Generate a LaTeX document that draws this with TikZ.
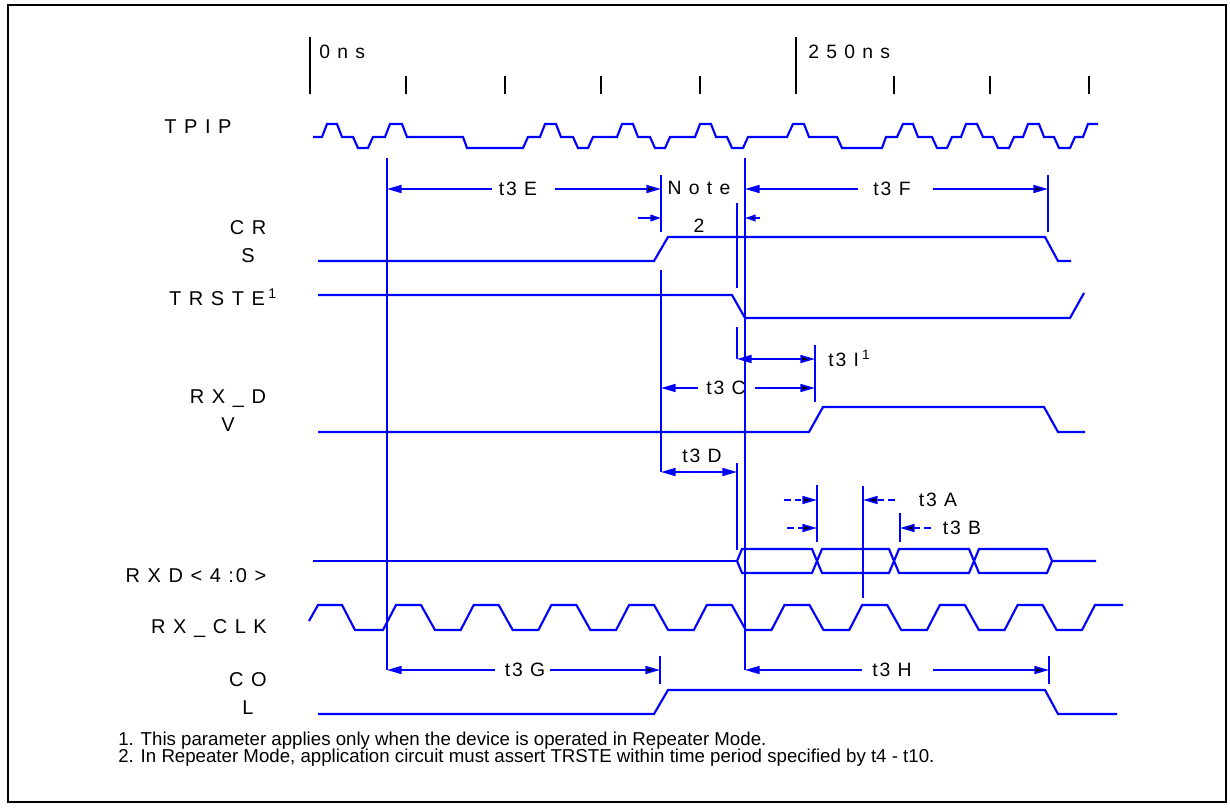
\documentclass[tikz,border=0pt]{standalone}
\usepackage{fontspec}
\setmainfont{Liberation Sans}
\usetikzlibrary{arrows.meta}

\begin{document}
\begin{tikzpicture}[x=0.75pt,y=-0.75pt,
  wave/.style={blue,line width=1.6pt},
  vline/.style={blue,line width=2pt},
  tickline/.style={black,line width=2pt},
  dim/.style={blue,line width=1.3pt},
  shortdash/.style={dash pattern=on 5pt off 3pt},
  lbl/.style={font=\fontsize{15}{21}\selectfont\addfontfeature{LetterSpace=10},inner sep=0pt,align=center},
  tlbl/.style={font=\fontsize{14.5}{16}\selectfont\addfontfeature{LetterSpace=10},inner sep=0pt},
  note/.style={font=\fontsize{14}{15}\selectfont,inner sep=0pt,anchor=west},
  tipb/.tip={Triangle[length=11pt,width=6pt]},
  tipk/.tip={Triangle[length=11pt,width=6pt,fill=black]},
  tips/.tip={Triangle[length=8pt,width=5pt,fill=black]}]
\useasboundingbox (0,0) rectangle (1230,807);
\draw[line width=0.8pt] (8,5) rectangle (1226,802);

% time scale
\draw[tickline] (310,37) -- (310,94);
\draw[tickline] (796,37) -- (796,94);
\foreach \x in {406,505,601,700,894,990,1089}
  \draw[tickline] (\x,76) -- (\x,94);
\node[tlbl,anchor=west] (zero) at (319,52) {0 n s};
\node[tlbl,anchor=west] (half) at (808,52) {2 5 0 n s};

% signal names
\node[lbl] (tpip) at (198,127) {T P I P};
\node[lbl] (crs) at (248,242) {C R\\S};
\node[lbl] (trste) at (223,297) {T R S T E\,\textsuperscript{1}};
\node[lbl] (rxdv) at (228,411) {R X \_ D\\V};
\node[lbl] (rxd) at (196,576) {R X D < 4 :0 >};
\node[lbl] (rxclk) at (209,628) {R X \_ C L K};
\node[lbl] (col) at (248,694) {C O\\L};

% TPIP
\draw[wave] (313,137) -- (322,137) -- (327,124) -- (337,124) -- (342,137) -- (353,137)
  -- (358,148) -- (368,148) -- (373,137) -- (385,137) -- (390,124) -- (402,124)
  -- (407,137) -- (463,137) -- (467,148) -- (523,148) -- (528,137) -- (540,137)
  -- (545,124) -- (556,124) -- (561,137) -- (573,137) -- (578,148) -- (588,148)
  -- (593,137) -- (617,137) -- (622,124) -- (633,124) -- (638,137) -- (650,137)
  -- (655,148) -- (665,148) -- (670,137) -- (695,137) -- (700,124) -- (711,124)
  -- (716,137) -- (727,137) -- (732,148) -- (743,148) -- (748,137) -- (787,137)
  -- (793,124) -- (804,124) -- (809,137) -- (837,137) -- (842,148) -- (882,148)
  -- (886,137) -- (897,137) -- (903,124) -- (913,124) -- (918,137) -- (932,137)
  -- (937,148) -- (947,148) -- (952,137) -- (961,137) -- (966,124) -- (977,124)
  -- (983,137) -- (993,137) -- (998,148) -- (1009,148) -- (1014,137) -- (1023,137)
  -- (1028,124) -- (1039,124) -- (1044,137) -- (1054,137) -- (1059,148) -- (1070,148)
  -- (1075,137) -- (1083,137) -- (1088,124) -- (1098,124);

% CRS, TRSTE, RX_DV
\draw[wave] (318,261) -- (654,261) -- (668,237) -- (1045,237) -- (1058,261) -- (1071,261);
\draw[wave] (318,295) -- (732,295) -- (745,318) -- (1070,318) -- (1084,293);
\draw[wave] (318,432) -- (809,432) -- (823,407) -- (1044,407) -- (1058,432) -- (1085,432);

% RXD<4:0>
\draw[wave] (313,561) -- (737,561);
\draw[wave] (737,561) -- (742,549) -- (812,549) -- (822,573) -- (889,573) -- (899,549)
  -- (969,549) -- (979,573) -- (1047,573) -- (1052,561) -- (1096,561);
\draw[wave] (737,561) -- (742,573) -- (812,573) -- (822,549) -- (889,549) -- (899,573)
  -- (969,573) -- (979,549) -- (1047,549) -- (1052,561);

% RX_CLK
\draw[wave] (309,621) -- (318,605) -- (342,605) -- (355,630)
  \foreach \k in {0,...,8} {
    -- ({383+77.7*\k},630) -- ({396+77.7*\k},605) -- ({421+77.7*\k},605) -- ({435+77.7*\k},630)
  } -- (1082,630) -- (1095,605) -- (1123,605);

% COL
\draw[wave] (318,714) -- (654,714) -- (668,690) -- (1045,690) -- (1058,714) -- (1117,714);

% reference lines
\draw[vline] (387,158) -- (387,670);
\draw[vline] (745,158) -- (745,670);
\draw[vline] (661,175) -- (661,232);
\draw[vline] (661,270) -- (661,472);
\draw[vline] (737,203) -- (737,288);
\draw[vline] (737,327) -- (737,359);
\draw[vline] (737,463) -- (737,550);
\draw[vline] (1048,175) -- (1048,232);
\draw[vline] (815,345) -- (815,402);
\draw[vline] (817,485) -- (817,542);
\draw[vline] (863,486) -- (863,598);
\draw[vline] (900,513) -- (900,542);
\draw[vline] (660,656) -- (660,684);
\draw[vline] (1049,656) -- (1049,684);

% t3E, Note 2, t3F
\node[tlbl] (t3e) at (518,189) {t3 E};
\draw[dim,-{tipb}] (492,189) -- (387,189);
\draw[dim,-{tipk}] (555,189) -- (661,189);
\node[tlbl,align=center,font=\fontsize{14.5}{29}\selectfont\addfontfeature{LetterSpace=10}] (note2) at (699,207) {N o t e\\2};
\draw[dim,-{tips}] (638,218) -- (661,218);
\draw[dim,-{tips}] (760,218) -- (745,218);
\node[tlbl] (t3f) at (892,189) {t3 F};
\draw[dim,-{tipb}] (858,189) -- (745,189);
\draw[dim,-{tipk}] (933,189) -- (1048,189);

% t3I, t3C, t3D
\node[tlbl,anchor=west] (t3i) at (828,358) {t3 I\,\textsuperscript{1}};
\draw[dim,{tipb}-{tipk}] (737,359) -- (815,359);
\node[tlbl] (t3c) at (726,388) {t3 C};
\draw[dim,-{tipb}] (698,388) -- (661,388);
\draw[dim,-{tipk}] (755,388) -- (815,388);
\node[tlbl] (t3d) at (702,456) {t3 D};
\draw[dim,{tipb}-{tipb}] (661,472) -- (737,472);

% t3A, t3B
\node[tlbl] (t3a) at (938,500) {t3 A};
\draw[dim,shortdash,-{tipk}] (784,500) -- (817,500);
\draw[dim,shortdash,-{tipk}] (895,500) -- (863,500);
\node[tlbl] (t3b) at (962,528) {t3 B};
\draw[dim,shortdash,-{tipk}] (787,528) -- (817,528);
\draw[dim,shortdash,-{tipk}] (931,528) -- (900,528);

% t3G, t3H
\node[tlbl] (t3g) at (525,670) {t3 G};
\draw[dim,-{tipb}] (495,670) -- (387,670);
\draw[dim,-{tipk}] (550,670) -- (660,670);
\node[tlbl] (t3h) at (892,670) {t3 H};
\draw[dim,-{tipb}] (862,670) -- (745,670);
\draw[dim,-{tipk}] (933,670) -- (1049,670);

% notes
\node[note] (note1txt) at (118,741) {1. This parameter applies only when the device is operated in Repeater Mode.};
\node[note] (note2txt) at (118,758) {2. In Repeater Mode, application circuit must assert TRSTE within time period specified by t4 - t10.};
\end{tikzpicture}
\end{document}
